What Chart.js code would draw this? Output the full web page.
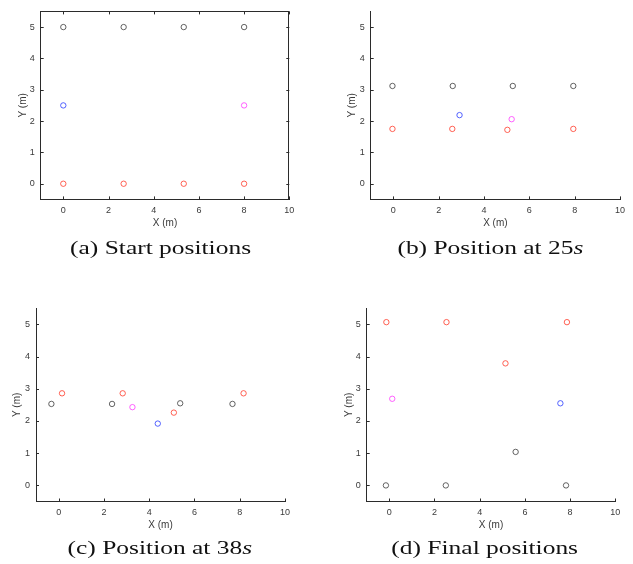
<!DOCTYPE html>
<html>
<head>
<meta charset="utf-8">
<script src="https://cdn.jsdelivr.net/npm/chart.js@4/dist/chart.umd.min.js"></script>
<style>
  html, body { margin: 0; padding: 0; background: #ffffff; }
  body { width: 633px; height: 564px; position: relative; overflow: hidden; }
  canvas { position: absolute; }
  .cap { position: absolute; width: 300px; text-align: center; font-family: "Liberation Serif", "Times New Roman", serif; font-size: 19px; line-height: 20px; color: #111; white-space: nowrap; }
  .cap span { display: inline-block; transform: scaleX(1.34); transform-origin: 50% 50%; }
</style>
</head>
<body>
<canvas id="pa"></canvas>
<canvas id="pb"></canvas>
<canvas id="pc"></canvas>
<canvas id="pd"></canvas>
<div class="cap" id="capA"></div>
<div class="cap" id="capB"></div>
<div class="cap" id="capC"></div>
<div class="cap" id="capD"></div>
<script>
// ---------- Data ----------
const xTicks = [0, 2, 4, 6, 8, 10];
const yTicks = [0, 1, 2, 3, 4, 5];
const xTitle = 'X (m)';
const yTitle = 'Y (m)';
const captionA = '(a) Start positions';
const captionB = '(b) Position at 25<i>s</i>';
const captionC = '(c) Position at 38<i>s</i>';
const captionD = '(d) Final positions';

// (a) Start positions
const aBlackX = [0, 2.67, 5.33, 8];
const aBlackY = [5, 5, 5, 5];
const aRedX   = [0, 2.67, 5.33, 8];
const aRedY   = [0, 0, 0, 0];
const aBlueX  = [0];
const aBlueY  = [2.5];
const aMagX   = [8];
const aMagY   = [2.5];

// (b) Position at 25s
const bBlackX = [-0.04, 2.62, 5.27, 7.94];
const bBlackY = [3.12, 3.12, 3.12, 3.12];
const bRedX   = [-0.04, 2.6, 5.03, 7.94];
const bRedY   = [1.75, 1.75, 1.72, 1.75];
const bBlueX  = [2.92];
const bBlueY  = [2.19];
const bMagX   = [5.22];
const bMagY   = [2.06];

// (c) Position at 38s
const cBlackX = [-0.32, 2.36, 5.37, 7.68];
const cBlackY = [2.53, 2.53, 2.55, 2.53];
const cRedX   = [0.15, 2.83, 5.09, 8.17];
const cRedY   = [2.86, 2.86, 2.26, 2.86];
const cBlueX  = [4.38];
const cBlueY  = [1.92];
const cMagX   = [3.26];
const cMagY   = [2.43];

// (d) Final positions
const dBlackX = [-0.15, 2.5, 7.82, 5.59];
const dBlackY = [0, 0, 0, 1.04];
const dRedX   = [-0.13, 2.53, 7.86, 5.14];
const dRedY   = [5.07, 5.07, 5.07, 3.79];
const dBlueX  = [7.57];
const dBlueY  = [2.55];
const dMagX   = [0.13];
const dMagY   = [2.69];

// ---------- Styles ----------
const axisColor = '#2b2b2b';
const tickColor = '#3a3a3a';
const colBlack = '#3c3c3c';
const colRed = '#ff3a2a';
const colBlue = '#2a3cff';
const colMag = '#ff3aff';

const inwardTicks = {
  id: 'inwardTicks',
  afterDraw(chart, args, opts) {
    const { ctx, chartArea: { left, right, top, bottom }, scales: { x, y } } = chart;
    const L = 3;
    ctx.save();
    ctx.strokeStyle = axisColor;
    ctx.lineWidth = 1;
    ctx.beginPath();
    x.ticks.forEach(t => {
      const px = Math.round(x.getPixelForValue(t.value)) + 0.5;
      ctx.moveTo(px, bottom); ctx.lineTo(px, bottom - L);
      if (opts.box) { ctx.moveTo(px, top); ctx.lineTo(px, top + L); }
    });
    y.ticks.forEach(t => {
      const py = Math.round(y.getPixelForValue(t.value)) + 0.5;
      ctx.moveTo(left, py); ctx.lineTo(left + L, py);
      if (opts.box) { ctx.moveTo(right, py); ctx.lineTo(right - L, py); }
    });
    if (opts.box) {
      const t0 = Math.round(top) + 0.5, r0 = Math.round(right) - 0.5;
      ctx.moveTo(left, t0); ctx.lineTo(right, t0);
      ctx.moveTo(r0, top); ctx.lineTo(r0, bottom);
    }
    ctx.stroke();
    ctx.restore();
  }
};

function series(xs, ys, color) {
  return {
    data: xs.map((v, i) => ({ x: v, y: ys[i] })),
    borderColor: color,
    backgroundColor: 'rgba(0,0,0,0)',
    pointBorderColor: color,
    pointBackgroundColor: 'rgba(0,0,0,0)',
    pointRadius: 2.7,
    pointBorderWidth: 0.8,
    showLine: false
  };
}

function makePanel(id, L, sets, box) {
  const cv = document.getElementById(id);
  cv.width = L.cw; cv.height = L.ch;
  cv.style.left = L.cx + 'px'; cv.style.top = L.cy + 'px';
  cv.style.width = L.cw + 'px'; cv.style.height = L.ch + 'px';
  const yW = L.aL - L.cx;
  const xH = (L.cy + L.ch) - L.aB;
  const tickFont = { family: '"Liberation Sans", Arial, Helvetica, sans-serif', size: 9 };
  const titleFont = { family: '"Liberation Sans", Arial, Helvetica, sans-serif', size: 10 };
  new Chart(cv, {
    type: 'scatter',
    data: { datasets: sets },
    options: {
      responsive: false,
      animation: false,
      devicePixelRatio: 1,
      layout: { padding: { left: 0, top: L.aT - L.cy, right: (L.cx + L.cw) - L.aR, bottom: 0 } },
      plugins: { legend: { display: false }, tooltip: { enabled: false }, inwardTicks: { box: box } },
      scales: {
        x: {
          type: 'linear', position: 'bottom', min: -1, max: 10,
          afterBuildTicks: s => { s.ticks = xTicks.map(v => ({ value: v })); },
          afterFit: s => { s.height = xH; },
          grid: { display: false, drawTicks: false },
          border: { display: true, color: axisColor, width: 1 },
          ticks: { font: tickFont, color: tickColor, padding: 6, maxRotation: 0, autoSkip: false },
          title: { display: true, text: xTitle, font: titleFont, color: tickColor,
                   padding: { top: 0, bottom: (L.cy + L.ch) - L.xT - 6 } }
        },
        y: {
          type: 'linear', position: 'left', min: -0.5, max: 5.5,
          afterBuildTicks: s => { s.ticks = yTicks.map(v => ({ value: v })); },
          afterFit: s => { s.width = yW; },
          grid: { display: false, drawTicks: false },
          border: { display: true, color: axisColor, width: 1 },
          ticks: { font: tickFont, color: tickColor, padding: 6, autoSkip: false },
          title: { display: true, text: yTitle, font: titleFont, color: tickColor,
                   padding: { top: L.yT - L.cx - 6, bottom: 0 } }
        }
      }
    },
    plugins: [inwardTicks]
  });
}

function placeCaption(id, html, cx, cy) {
  const d = document.getElementById(id);
  d.innerHTML = '<span>' + html + '</span>';
  d.style.left = (cx - 150) + 'px';
  d.style.top = (cy - 10) + 'px';
}

makePanel('pa', { cx: 0, cy: 0, cw: 310, ch: 240, aL: 40.7, aR: 289.3, aT: 6, aB: 199.4, xT: 223.3, yT: 23.3 },
  [series(aBlackX, aBlackY, colBlack), series(aRedX, aRedY, colRed), series(aBlueX, aBlueY, colBlue), series(aMagX, aMagY, colMag)], true);
makePanel('pb', { cx: 316, cy: 0, cw: 317, ch: 240, aL: 370.7, aR: 620, aT: 6, aB: 199.4, xT: 223.3, yT: 352.7 },
  [series(bBlackX, bBlackY, colBlack), series(bRedX, bRedY, colRed), series(bBlueX, bBlueY, colBlue), series(bMagX, bMagY, colMag)], false);
makePanel('pc', { cx: 0, cy: 280, cw: 310, ch: 260, aL: 36, aR: 285, aT: 308.3, aB: 501.5, xT: 525.7, yT: 17.3 },
  [series(cBlackX, cBlackY, colBlack), series(cRedX, cRedY, colRed), series(cBlueX, cBlueY, colBlue), series(cMagX, cMagY, colMag)], false);
makePanel('pd', { cx: 316, cy: 280, cw: 317, ch: 260, aL: 366.7, aR: 615.3, aT: 308.3, aB: 501.5, xT: 525.7, yT: 349.3 },
  [series(dBlackX, dBlackY, colBlack), series(dRedX, dRedY, colRed), series(dBlueX, dBlueY, colBlue), series(dMagX, dMagY, colMag)], false);

placeCaption('capA', captionA, 160.3, 248.3);
placeCaption('capB', captionB, 490.3, 248.3);
placeCaption('capC', captionC, 159.7, 548.3);
placeCaption('capD', captionD, 485, 548.3);
</script>
</body>
</html>
